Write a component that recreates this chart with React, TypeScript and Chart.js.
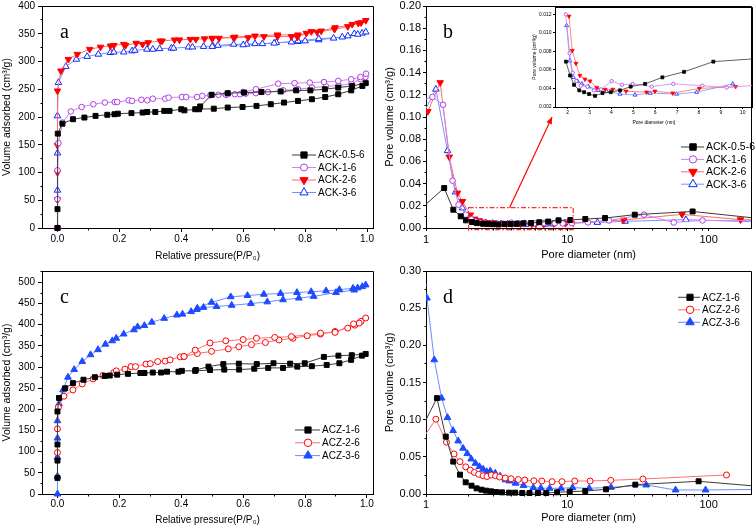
import React, { useEffect, useRef } from 'react';
import { Chart, registerables } from 'chart.js';
Chart.register(...registerables);

const FONT = "'Liberation Sans', Arial, sans-serif";
const SERIF = "'Liberation Serif', 'Times New Roman', serif";

type Pt = [number, number];

// ---------- Panel a: N2 isotherms (ACK) ----------
const aXTicks = [0, 0.2, 0.4, 0.6, 0.8, 1.0];
const aXMinor = [0.1, 0.3, 0.5, 0.7, 0.9];
const aYTicks = [0, 50, 100, 150, 200, 250, 300, 350, 400];
const aYMinor = [25, 75, 125, 175, 225, 275, 325, 375];

const ACK_05_6_iso: Pt[] = [
  [0, 0], [0, 34], [0.001, 170], [0.016, 188], [0.05, 196], [0.087, 199], [0.123, 202], [0.161, 204],
  [0.184, 205], [0.195, 206], [0.239, 207], [0.275, 208], [0.29, 209], [0.316, 209], [0.345, 211],
  [0.362, 211], [0.4, 214], [0.41, 212], [0.457, 214], [0.505, 215], [0.55, 217], [0.598, 218],
  [0.643, 220], [0.689, 223], [0.732, 226], [0.777, 229], [0.822, 232], [0.865, 236], [0.907, 241],
  [0.949, 248], [0.985, 256], [0.996, 261],
  [0.952, 256], [0.907, 253], [0.864, 250], [0.817, 248], [0.771, 248], [0.721, 246], [0.659, 245],
  [0.603, 244], [0.55, 243], [0.498, 240], [0.461, 219], [0.445, 214],
];
const ACK_1_6_iso: Pt[] = [
  [0, 0], [0, 52], [0, 104], [0.003, 153], [0.016, 190], [0.043, 210], [0.078, 218], [0.116, 223],
  [0.153, 226], [0.185, 227], [0.193, 227], [0.23, 230], [0.241, 229], [0.271, 231], [0.29, 230],
  [0.308, 233], [0.348, 233], [0.359, 235], [0.402, 236], [0.416, 236], [0.451, 236], [0.468, 238],
  [0.494, 239], [0.52, 240], [0.544, 240], [0.573, 241], [0.59, 241], [0.608, 242], [0.641, 243],
  [0.68, 245], [0.729, 248], [0.777, 250], [0.822, 253], [0.868, 255], [0.908, 257], [0.949, 260],
  [0.979, 268], [0.995, 272],
  [0.997, 278], [0.979, 272], [0.949, 268], [0.907, 265], [0.861, 263], [0.815, 262], [0.766, 261],
  [0.713, 260], [0.641, 250], [0.6, 245], [0.55, 241],
];
const ACK_2_6_iso: Pt[] = [
  [0, 0], [0, 51], [0, 100], [0, 149], [0, 247], [0.011, 283], [0.035, 304], [0.064, 313], [0.104, 322],
  [0.139, 326], [0.171, 328], [0.182, 329], [0.214, 331], [0.22, 329], [0.254, 333], [0.275, 331],
  [0.293, 334], [0.332, 337], [0.338, 337], [0.378, 339], [0.394, 339], [0.429, 340], [0.447, 340],
  [0.475, 341], [0.5, 341], [0.522, 342], [0.569, 343], [0.616, 343], [0.667, 345], [0.711, 345],
  [0.756, 345], [0.775, 344], [0.804, 351], [0.82, 354], [0.852, 355], [0.897, 361], [0.952, 367],
  [0.981, 370], [0.996, 374],
  [0.972, 369], [0.938, 363], [0.895, 358], [0.839, 353], [0.777, 348], [0.711, 348], [0.638, 346],
  [0.573, 344], [0.5, 342],
];
const ACK_3_6_iso: Pt[] = [
  [0, 0], [0, 68], [0, 135], [0, 202], [0.003, 262], [0.027, 291], [0.061, 304], [0.096, 309],
  [0.132, 313], [0.171, 316], [0.182, 317], [0.214, 317], [0.241, 319], [0.25, 320], [0.289, 322],
  [0.308, 322], [0.33, 323], [0.368, 324], [0.375, 324], [0.423, 326], [0.436, 326], [0.472, 327],
  [0.502, 328], [0.518, 329], [0.569, 331], [0.611, 331], [0.638, 332], [0.662, 332], [0.707, 334],
  [0.756, 335], [0.777, 336], [0.8, 337], [0.844, 339], [0.892, 342], [0.938, 346], [0.959, 350],
  [0.984, 351], [0.996, 353],
  [0.97, 349], [0.92, 344], [0.844, 341], [0.777, 337], [0.7, 333], [0.6, 330], [0.5, 327],
];

// ---------- Panel b: pore size distribution (ACK) ----------
const bXTicks = [1, 10, 100];
const bXMinor = [2, 3, 4, 5, 6, 7, 8, 9, 20, 30, 40, 50, 60, 70, 80, 90];
const bYTicks = [0, 0.02, 0.04, 0.06, 0.08, 0.1, 0.12, 0.14, 0.16, 0.18, 0.2];
const bYMinor = [0.01, 0.03, 0.05, 0.07, 0.09, 0.11, 0.13, 0.15, 0.17, 0.19];

const ACK_05_6_psd: Pt[] = [
  [0.93, 0.018], [1.345, 0.036], [1.56, 0.0165], [1.76, 0.0105], [1.92, 0.0069], [2.11, 0.0054],
  [2.29, 0.0044], [2.53, 0.0038], [2.75, 0.0036], [2.98, 0.0034], [3.25, 0.0032], [3.59, 0.0035],
  [3.97, 0.0036], [4.39, 0.0038], [4.88, 0.0042], [5.54, 0.0045], [6.33, 0.0052], [7.32, 0.0058],
  [8.66, 0.0069], [10.5, 0.0072], [13.4, 0.0081], [18.5, 0.009], [30, 0.012], [77, 0.0149], [230, 0.0085],
];
const ACK_1_6_psd: Pt[] = [
  [0.93, 0.115], [1.11, 0.118], [1.32, 0.111], [1.54, 0.0426], [1.7, 0.021], [1.91, 0.012],
  [2.09, 0.0078], [2.23, 0.0057], [2.4, 0.0048], [2.6, 0.0043], [2.9, 0.0042], [3.2, 0.0038],
  [3.52, 0.0039], [4.01, 0.0048], [4.48, 0.0044], [4.97, 0.0045], [5.84, 0.0042], [6.83, 0.0045],
  [8.16, 0.0043], [9.27, 0.0041], [10.8, 0.0044], [14, 0.005], [19.7, 0.0068], [34.9, 0.012],
  [56.6, 0.005], [90.5, 0.0068], [230, 0.0065],
];
const ACK_2_6_psd: Pt[] = [
  [0.93, 0.1], [1.03, 0.105], [1.26, 0.131], [1.46, 0.064], [1.67, 0.0315], [1.81, 0.024],
  [2.06, 0.0118], [2.21, 0.0081], [2.38, 0.0067], [2.56, 0.0054], [2.79, 0.005], [3.02, 0.0048],
  [3.33, 0.0041], [3.71, 0.0039], [4.06, 0.0039], [4.67, 0.0037], [5.61, 0.0036], [5.99, 0.0037],
  [6.8, 0.0035], [8.02, 0.004], [9.68, 0.0042], [25, 0.0072], [64.8, 0.0123], [168, 0.0075], [240, 0.0072],
];
const ACK_3_6_psd: Pt[] = [
  [0.93, 0.1], [1.175, 0.125], [1.42, 0.0696], [1.62, 0.0324], [1.81, 0.018], [1.95, 0.0108],
  [2.1, 0.007], [2.26, 0.0052], [2.44, 0.0048], [2.65, 0.0045], [2.95, 0.0042], [3.4, 0.0038],
  [3.78, 0.0037], [4.39, 0.0034], [5.08, 0.0033], [5.77, 0.0035], [6.98, 0.0034], [7.9, 0.0036],
  [9.55, 0.0045], [16.3, 0.005], [25.6, 0.006], [69, 0.0075], [230, 0.0055],
];

// inset of panel b
const iXTicks = [2, 3, 4, 5, 6, 7, 8, 9, 10];
const iYTicks = [0.002, 0.004, 0.006, 0.008, 0.01, 0.012];

// ---------- Panel c: N2 isotherms (ACZ) ----------
const cYTicks = [0, 50, 100, 150, 200, 250, 300, 350, 400, 450, 500];
const cYMinor = [25, 75, 125, 175, 225, 275, 325, 375, 425, 475, 525];

const ACZ_1_6_iso: Pt[] = [
  [0, 38], [0, 79], [0, 117], [0, 195], [0.005, 227], [0.025, 250], [0.05, 262], [0.084, 270],
  [0.121, 276], [0.153, 279], [0.169, 280], [0.193, 282], [0.228, 284], [0.268, 286], [0.281, 286],
  [0.308, 287], [0.335, 287], [0.354, 289], [0.391, 289], [0.402, 291], [0.445, 291], [0.493, 293],
  [0.539, 294], [0.587, 294], [0.636, 296], [0.681, 298], [0.729, 298], [0.775, 301], [0.822, 302],
  [0.87, 305], [0.911, 309], [0.949, 317], [0.984, 327], [0.996, 331],
  [0.951, 328], [0.908, 327], [0.861, 324], [0.799, 309], [0.752, 308], [0.698, 309], [0.644, 307],
  [0.586, 308], [0.536, 307], [0.488, 301], [0.447, 293],
];
const ACZ_2_6_iso: Pt[] = [
  [0, 98], [0, 154], [0.003, 205], [0.021, 231], [0.05, 246], [0.08, 260], [0.115, 272], [0.147, 280],
  [0.182, 287], [0.19, 291], [0.218, 295], [0.238, 301], [0.252, 301], [0.286, 307], [0.3, 308],
  [0.324, 313], [0.348, 314], [0.364, 317], [0.397, 324], [0.409, 325], [0.452, 332], [0.498, 337],
  [0.552, 343], [0.586, 348], [0.627, 353], [0.672, 358], [0.716, 364], [0.761, 368], [0.807, 374],
  [0.85, 378], [0.897, 384], [0.938, 392], [0.961, 399], [0.981, 408], [0.996, 416],
  [0.975, 404], [0.957, 402], [0.897, 382], [0.85, 380], [0.756, 372], [0.702, 370], [0.643, 368],
  [0.6, 365], [0.544, 362], [0.493, 357], [0.445, 340], [0.409, 325],
];
const ACZ_3_6_iso: Pt[] = [
  [0, 0], [0, 42], [0, 87], [0, 132], [0, 173], [0.005, 213], [0.018, 246], [0.034, 276], [0.054, 294],
  [0.08, 313], [0.107, 329], [0.131, 341], [0.155, 354], [0.177, 362], [0.19, 368], [0.214, 378],
  [0.247, 388], [0.259, 395], [0.281, 398], [0.305, 406], [0.345, 415], [0.386, 423], [0.404, 425],
  [0.432, 431], [0.452, 439], [0.498, 453], [0.56, 466], [0.614, 469], [0.667, 472], [0.721, 474],
  [0.774, 476], [0.82, 478], [0.868, 480], [0.911, 483], [0.955, 486], [0.97, 487], [0.985, 490],
  [0.996, 494],
  [0.959, 482], [0.9, 476], [0.828, 467], [0.78, 463], [0.729, 459], [0.678, 454], [0.625, 450],
  [0.563, 446], [0.514, 443], [0.472, 441], [0.45, 436],
];

// ---------- Panel d: pore size distribution (ACZ) ----------
const dYTicks = [0, 0.05, 0.1, 0.15, 0.2, 0.25, 0.3];
const dYMinor = [0.025, 0.075, 0.125, 0.175, 0.225, 0.275];

const ACZ_1_6_psd: Pt[] = [
  [0.93, 0.088], [1.195, 0.129], [1.38, 0.0772], [1.56, 0.0436], [1.74, 0.026], [1.91, 0.0157],
  [2.1, 0.0112], [2.28, 0.0076], [2.47, 0.0058], [2.66, 0.0045], [2.89, 0.0036], [3.14, 0.0027],
  [3.45, 0.0022], [3.87, 0.0018], [4.27, 0.0018], [4.8, 0.0013], [5.4, 0.0013], [6.2, 0.0013],
  [7.1, 0.0013], [8.46, 0.0023], [10.4, 0.0031], [13.4, 0.004], [18.8, 0.0063], [30.3, 0.0126],
  [85, 0.0171], [230, 0.0102],
];
const ACZ_2_6_psd: Pt[] = [
  [0.93, 0.0725], [1.175, 0.1006], [1.396, 0.0697], [1.58, 0.0539], [1.74, 0.0435], [1.91, 0.0365],
  [2.06, 0.032], [2.2, 0.029], [2.36, 0.0265], [2.54, 0.0245], [2.7, 0.0235], [2.9, 0.0255],
  [3.11, 0.0245], [3.32, 0.0228], [3.64, 0.0215], [4.0, 0.0205], [4.5, 0.0195], [5.0, 0.0188],
  [5.8, 0.0178], [6.6, 0.0175], [7.81, 0.0166], [9.17, 0.0166], [11.3, 0.0175], [14.5, 0.0175],
  [20.3, 0.0184], [34.3, 0.0202], [134, 0.0256],
];
const ACZ_3_6_psd: Pt[] = [
  [0.96, 0.283], [1.016, 0.2636], [1.144, 0.1805], [1.29, 0.129], [1.42, 0.1028], [1.555, 0.0853],
  [1.69, 0.0714], [1.83, 0.0615], [1.96, 0.0543], [2.09, 0.0471], [2.24, 0.0413], [2.39, 0.0368],
  [2.54, 0.0333], [2.69, 0.03], [2.85, 0.031], [3.09, 0.028], [3.35, 0.024], [3.64, 0.019],
  [3.9, 0.0175], [4.3, 0.0145], [4.9, 0.0115], [5.75, 0.0085], [6.5, 0.0079], [7.5, 0.0077],
  [9.04, 0.0077], [10.9, 0.0085], [14.3, 0.0077], [20.4, 0.009], [36.2, 0.0121], [58.4, 0.0054],
  [95.2, 0.0054], [230, 0.0062],
];

// ---------- styles ----------
interface MStyle { shape: string; rot?: number; r: number; fill: string; stroke: string; line: string; bw?: number; }
const ST_BLACK: MStyle = { shape: 'rect', r: 3.5, fill: '#000', stroke: '#000', line: '#3a3a3a' };
const ST_PURPLE: MStyle = { shape: 'circle', r: 2.8, fill: '#fff', stroke: '#b03ce6', line: '#cc85ef' };
const ST_RED_DOWN: MStyle = { shape: 'triangle', rot: 180, r: 3.8, fill: '#ff0000', stroke: '#ff0000', line: '#ff6a6a' };
const ST_BLUE_OPEN: MStyle = { shape: 'triangle', r: 3.8, fill: '#fff', stroke: '#0a28ff', line: '#7890ff' };
const ST_RED_OPEN: MStyle = { shape: 'circle', r: 3, fill: '#fff', stroke: '#ff0000', line: '#ff7070' };
const ST_BLUE_FILL: MStyle = { shape: 'triangle', r: 3.9, fill: '#1d4bff', stroke: '#1d4bff', line: '#6d8bff' };

function ds(label: string, pts: Pt[], st: MStyle, k = 1, lw = 1) {
  return {
    label,
    data: pts.map(([x, y]) => ({ x, y })),
    showLine: true,
    tension: 0,
    borderColor: st.line,
    borderWidth: lw,
    pointStyle: st.shape,
    pointRotation: st.rot ?? 0,
    pointRadius: st.r * k,
    pointHoverRadius: st.r * k,
    pointBackgroundColor: st.fill,
    pointBorderColor: st.stroke,
    pointBorderWidth: k < 1 ? 0.8 : 1,
    clip: { left: 0, right: 0, top: 5, bottom: 5 },
    _st: st,
  };
}

function drawMarker(ctx: CanvasRenderingContext2D, st: MStyle, x: number, y: number, r: number) {
  ctx.beginPath();
  if (st.shape === 'rect') {
    const s = r * Math.SQRT1_2;
    ctx.rect(x - s, y - s, 2 * s, 2 * s);
  } else if (st.shape === 'circle') {
    ctx.arc(x, y, r, 0, Math.PI * 2);
  } else {
    let rad = ((st.rot ?? 0) * Math.PI) / 180;
    ctx.moveTo(x + Math.sin(rad) * r, y - Math.cos(rad) * r);
    rad += (2 * Math.PI) / 3;
    ctx.lineTo(x + Math.sin(rad) * r, y - Math.cos(rad) * r);
    rad += (2 * Math.PI) / 3;
    ctx.lineTo(x + Math.sin(rad) * r, y - Math.cos(rad) * r);
    ctx.closePath();
  }
  ctx.fillStyle = st.fill;
  ctx.fill();
  ctx.lineWidth = 1;
  ctx.strokeStyle = st.stroke;
  ctx.stroke();
}

interface Spec {
  left: number; top: number; width: number; height: number;
  log?: boolean;
  xMin: number; xMax: number; xTicks: number[]; xMinor: number[]; xFmt: (v: number) => string;
  yMin: number; yMax: number; yTicks: number[]; yMinor: number[]; yFmt: (v: number) => string;
  yWidth: number; xHeight: number; padTop: number; padRight: number;
  tickFont: number; xTitleFont: number; yTitleFont: number;
  xTitle: string; yTitle: string;
  xTickLen: number; xTickPad: number; yTickLen: number; yTickPad: number;
  xTitlePad: number; yTitlePad: number; minorLen: number;
  legend?: { mx: number; lx0: number; lx1: number; tx: number; y0: number; dy: number; font: number; k: number };
  letter?: { text: string; x: number; y: number };
  extras?: (chart: any) => void;
  datasets: any[];
}

function makeDeco(s: Spec) {
  return {
    id: 'deco',
    afterDraw(chart: any) {
      const { ctx, chartArea: ca, scales } = chart;
      const xs = scales.x, ys = scales.y;
      const al = (p: number) => Math.round(p - 0.5) + 0.5;
      ctx.save();
      ctx.strokeStyle = '#000';
      ctx.lineWidth = 1;
      const L = al(ca.left), R = al(ca.right), T = al(ca.top), B = al(ca.bottom);
      ctx.beginPath();
      ctx.moveTo(L, T); ctx.lineTo(R, T); ctx.lineTo(R, B);
      ctx.stroke();
      // minor ticks
      ctx.beginPath();
      for (const v of s.xMinor) {
        const px = al(xs.getPixelForValue(v));
        ctx.moveTo(px, B); ctx.lineTo(px, B + s.minorLen);
      }
      for (const v of s.yMinor) {
        const py = al(ys.getPixelForValue(v));
        ctx.moveTo(L, py); ctx.lineTo(L - s.minorLen, py);
      }
      ctx.stroke();
      if (s.extras) s.extras(chart);
      if (s.letter) {
        ctx.fillStyle = '#000';
        ctx.font = `20px ${SERIF}`;
        ctx.textAlign = 'left';
        ctx.textBaseline = 'alphabetic';
        ctx.fillText(s.letter.text, s.letter.x, s.letter.y);
      }
      if (s.legend) {
        const lg = s.legend;
        chart.data.datasets.forEach((d: any, i: number) => {
          const y = lg.y0 + i * lg.dy;
          ctx.strokeStyle = d.borderColor;
          ctx.lineWidth = 1;
          ctx.beginPath();
          ctx.moveTo(lg.lx0, y); ctx.lineTo(lg.lx1, y);
          ctx.stroke();
          drawMarker(ctx, d._st, lg.mx, y, d._st.r * lg.k);
          ctx.fillStyle = '#000';
          ctx.font = `${lg.font}px ${FONT}`;
          ctx.textAlign = 'left';
          ctx.textBaseline = 'middle';
          ctx.fillText(d.label, lg.tx, y + 0.5);
        });
      }
      ctx.restore();
    },
  };
}

function buildConfig(s: Spec): any {
  return {
    type: 'scatter',
    data: { datasets: s.datasets },
    options: {
      responsive: false,
      animation: false,
      devicePixelRatio: 1,
      events: [],
      layout: { padding: { left: 0, top: s.padTop, right: s.padRight, bottom: 0 } },
      plugins: { legend: { display: false }, tooltip: { enabled: false } },
      scales: {
        x: {
          type: s.log ? 'logarithmic' : 'linear',
          min: s.xMin,
          max: s.xMax,
          afterBuildTicks: (sc: any) => { sc.ticks = s.xTicks.map((v) => ({ value: v })); },
          afterFit: (sc: any) => {
            sc.height = s.xHeight;
            sc.paddingLeft = 0; sc.paddingRight = 0; sc.paddingTop = 0; sc.paddingBottom = 0;
          },
          ticks: {
            autoSkip: false, maxRotation: 0, minRotation: 0, padding: s.xTickPad, color: '#000',
            font: { family: FONT, size: s.tickFont },
            callback: (v: any) => s.xFmt(Number(v)),
          },
          grid: { drawOnChartArea: false, drawTicks: true, tickLength: s.xTickLen, color: '#000', tickColor: '#000', lineWidth: 1 },
          border: { display: true, color: '#000', width: 1 },
          title: {
            display: true, text: s.xTitle, color: '#000',
            font: { family: FONT, size: s.xTitleFont }, padding: { top: 0, bottom: s.xTitlePad },
          },
        },
        y: {
          type: 'linear',
          position: 'left',
          min: s.yMin,
          max: s.yMax,
          afterBuildTicks: (sc: any) => { sc.ticks = s.yTicks.map((v) => ({ value: v })); },
          afterFit: (sc: any) => {
            sc.width = s.yWidth;
            sc.paddingLeft = 0; sc.paddingRight = 0; sc.paddingTop = 0; sc.paddingBottom = 0;
          },
          ticks: {
            autoSkip: false, padding: s.yTickPad, color: '#000',
            font: { family: FONT, size: s.tickFont },
            callback: (v: any) => s.yFmt(Number(v)),
          },
          grid: { drawOnChartArea: false, drawTicks: true, tickLength: s.yTickLen, color: '#000', tickColor: '#000', lineWidth: 1 },
          border: { display: true, color: '#000', width: 1 },
          title: {
            display: true, text: s.yTitle, color: '#000',
            font: { family: FONT, size: s.yTitleFont }, padding: { top: s.yTitlePad, bottom: 0 },
          },
        },
      },
    },
    plugins: [makeDeco(s)],
  };
}

const TITLE_ISO_X = 'Relative pressure(P/P\u2080)';
const TITLE_ISO_Y = 'Volume adsorbed (cm\u00B3/g)';
const TITLE_PSD_X = 'Pore diameter (nm)';
const TITLE_PSD_Y = 'Pore volume (cm\u00B3/g)';

const specA: Spec = {
  left: 0, top: 0, width: 378, height: 264,
  xMin: -0.05, xMax: 1.02, xTicks: aXTicks, xMinor: aXMinor, xFmt: (v) => v.toFixed(1),
  yMin: 0, yMax: 400, yTicks: aYTicks, yMinor: aYMinor, yFmt: (v) => String(Math.round(v)),
  yWidth: 42, xHeight: 36, padTop: 6, padRight: 2,
  tickFont: 10, xTitleFont: 10, yTitleFont: 10.5,
  xTitle: TITLE_ISO_X, yTitle: TITLE_ISO_Y,
  xTickLen: 4, xTickPad: 1, yTickLen: 4, yTickPad: 3, xTitlePad: 2, yTitlePad: 1, minorLen: 2,
  legend: { mx: 304, lx0: 292, lx1: 316, tx: 318, y0: 155, dy: 12.5, font: 10, k: 1.25 },
  letter: { text: 'a', x: 60, y: 38 },
  datasets: [
    ds('ACK-0.5-6', ACK_05_6_iso, ST_BLACK),
    ds('ACK-1-6', ACK_1_6_iso, ST_PURPLE),
    ds('ACK-2-6', ACK_2_6_iso, ST_RED_DOWN),
    ds('ACK-3-6', ACK_3_6_iso, ST_BLUE_OPEN),
  ],
};

const zoomBox = { x0: 2, x1: 11, y0: -0.0015, y1: 0.0183 };
const arrowPts = { x0: 3.9, y0: 0.0183, x1: 7.8, y1: 0.1 };

const specB: Spec = {
  left: 378, top: 0, width: 378, height: 264, log: true,
  xMin: 1, xMax: 200, xTicks: bXTicks, xMinor: bXMinor, xFmt: (v) => String(v),
  yMin: 0, yMax: 0.2, yTicks: bYTicks, yMinor: bYMinor, yFmt: (v) => v.toFixed(2),
  yWidth: 48, xHeight: 36, padTop: 6, padRight: 2,
  tickFont: 11, xTitleFont: 11, yTitleFont: 11,
  xTitle: TITLE_PSD_X, yTitle: TITLE_PSD_Y,
  xTickLen: 3, xTickPad: 2, yTickLen: 3, yTickPad: 2, xTitlePad: 2.5, yTitlePad: 5, minorLen: 2,
  legend: { mx: 315, lx0: 303, lx1: 326, tx: 328, y0: 147, dy: 12.4, font: 10.5, k: 1.3 },
  letter: { text: 'b', x: 65, y: 38 },
  extras: (chart: any) => {
    const { ctx, scales } = chart;
    const xs = scales.x, ys = scales.y;
    ctx.save();
    ctx.strokeStyle = '#ff2a2a';
    ctx.lineWidth = 1.2;
    ctx.setLineDash([5, 2, 1.5, 2]);
    const X0 = xs.getPixelForValue(zoomBox.x0), X1 = xs.getPixelForValue(zoomBox.x1);
    const Y0 = ys.getPixelForValue(zoomBox.y0), Y1 = ys.getPixelForValue(zoomBox.y1);
    ctx.strokeRect(X0, Y1, X1 - X0, Y0 - Y1);
    ctx.setLineDash([]);
    const ax0 = xs.getPixelForValue(arrowPts.x0), ay0 = ys.getPixelForValue(arrowPts.y0);
    const ax1 = xs.getPixelForValue(arrowPts.x1), ay1 = ys.getPixelForValue(arrowPts.y1);
    ctx.strokeStyle = '#ff0000';
    ctx.lineWidth = 1.2;
    ctx.beginPath();
    ctx.moveTo(ax0, ay0); ctx.lineTo(ax1, ay1);
    ctx.stroke();
    const ang = Math.atan2(ay1 - ay0, ax1 - ax0);
    const hl = 7, hw = 3;
    ctx.fillStyle = '#ff0000';
    ctx.beginPath();
    ctx.moveTo(ax1, ay1);
    ctx.lineTo(ax1 - hl * Math.cos(ang) + hw * Math.sin(ang), ay1 - hl * Math.sin(ang) - hw * Math.cos(ang));
    ctx.lineTo(ax1 - hl * Math.cos(ang) - hw * Math.sin(ang), ay1 - hl * Math.sin(ang) + hw * Math.cos(ang));
    ctx.closePath();
    ctx.fill();
    ctx.restore();
  },
  datasets: [
    ds('ACK-0.5-6', ACK_05_6_psd, ST_BLACK),
    ds('ACK-1-6', ACK_1_6_psd, ST_PURPLE),
    ds('ACK-2-6', ACK_2_6_psd, ST_RED_DOWN),
    ds('ACK-3-6', ACK_3_6_psd, ST_BLUE_OPEN),
  ],
};

const insetSel = (pts: Pt[]) => pts.filter(([x]) => x >= 1.88 && x <= 15);

const specInset: Spec = {
  left: 528, top: 0, width: 228, height: 128,
  xMin: 1.42, xMax: 10.47, xTicks: iXTicks, xMinor: [], xFmt: (v) => String(v),
  yMin: 0.002, yMax: 0.0128, yTicks: iYTicks, yMinor: [], yFmt: (v) => v.toFixed(3),
  yWidth: 27, xHeight: 21, padTop: 7, padRight: 3,
  tickFont: 5, xTitleFont: 5, yTitleFont: 5,
  xTitle: TITLE_PSD_X, yTitle: TITLE_PSD_Y,
  xTickLen: 2, xTickPad: 0.5, yTickLen: 2, yTickPad: 1.5, xTitlePad: 2.5, yTitlePad: 3.5, minorLen: 1,
  datasets: [
    ds('ACK-0.5-6', insetSel(ACK_05_6_psd), ST_BLACK, 0.6, 0.8),
    ds('ACK-1-6', insetSel(ACK_1_6_psd), ST_PURPLE, 0.6, 0.8),
    ds('ACK-2-6', insetSel(ACK_2_6_psd), ST_RED_DOWN, 0.6, 0.8),
    ds('ACK-3-6', insetSel(ACK_3_6_psd), ST_BLUE_OPEN, 0.6, 0.8),
  ],
};

const specC: Spec = {
  left: 0, top: 264, width: 378, height: 265,
  xMin: -0.05, xMax: 1.02, xTicks: aXTicks, xMinor: aXMinor, xFmt: (v) => v.toFixed(1),
  yMin: 0, yMax: 527, yTicks: cYTicks, yMinor: cYMinor, yFmt: (v) => String(Math.round(v)),
  yWidth: 42, xHeight: 35, padTop: 7, padRight: 2,
  tickFont: 10, xTitleFont: 10, yTitleFont: 10.5,
  xTitle: TITLE_ISO_X, yTitle: TITLE_ISO_Y,
  xTickLen: 4, xTickPad: 0, yTickLen: 4, yTickPad: 3, xTitlePad: 2.3, yTitlePad: 1, minorLen: 2,
  legend: { mx: 308, lx0: 295, lx1: 320, tx: 322, y0: 166, dy: 12.8, font: 10, k: 1.25 },
  letter: { text: 'c', x: 60, y: 39 },
  datasets: [
    ds('ACZ-1-6', ACZ_1_6_iso, ST_BLACK),
    ds('ACZ-2-6', ACZ_2_6_iso, ST_RED_OPEN),
    ds('ACZ-3-6', ACZ_3_6_iso, ST_BLUE_FILL),
  ],
};

const specD: Spec = {
  left: 378, top: 264, width: 378, height: 265, log: true,
  xMin: 1, xMax: 200, xTicks: bXTicks, xMinor: bXMinor, xFmt: (v) => String(v),
  yMin: 0, yMax: 0.3, yTicks: dYTicks, yMinor: dYMinor, yFmt: (v) => v.toFixed(2),
  yWidth: 48, xHeight: 35, padTop: 7, padRight: 2,
  tickFont: 11, xTitleFont: 11, yTitleFont: 11,
  xTitle: TITLE_PSD_X, yTitle: TITLE_PSD_Y,
  xTickLen: 3, xTickPad: 1, yTickLen: 3, yTickPad: 2, xTitlePad: 4.4, yTitlePad: 5, minorLen: 2,
  legend: { mx: 312, lx0: 300, lx1: 322, tx: 324, y0: 33.3, dy: 12.5, font: 10, k: 1.25 },
  letter: { text: 'd', x: 65, y: 39 },
  datasets: [
    ds('ACZ-1-6', ACZ_1_6_psd, ST_BLACK),
    ds('ACZ-2-6', ACZ_2_6_psd, ST_RED_OPEN),
    ds('ACZ-3-6', ACZ_3_6_psd, ST_BLUE_FILL),
  ],
};

function Panel({ spec }: { spec: Spec }) {
  const ref = useRef<HTMLCanvasElement>(null);
  useEffect(() => {
    const chart = new Chart(ref.current as HTMLCanvasElement, buildConfig(spec));
    return () => chart.destroy();
  }, [spec]);
  return (
    <canvas
      ref={ref}
      width={spec.width}
      height={spec.height}
      style={{ position: 'absolute', left: spec.left, top: spec.top, width: spec.width, height: spec.height }}
    />
  );
}

export default function App() {
  return (
    <div style={{ position: 'fixed', left: 0, top: 0, width: 756, height: 529, background: '#fff', overflow: 'hidden' }}>
      <Panel spec={specA} />
      <Panel spec={specB} />
      <Panel spec={specC} />
      <Panel spec={specD} />
      <Panel spec={specInset} />
    </div>
  );
}
